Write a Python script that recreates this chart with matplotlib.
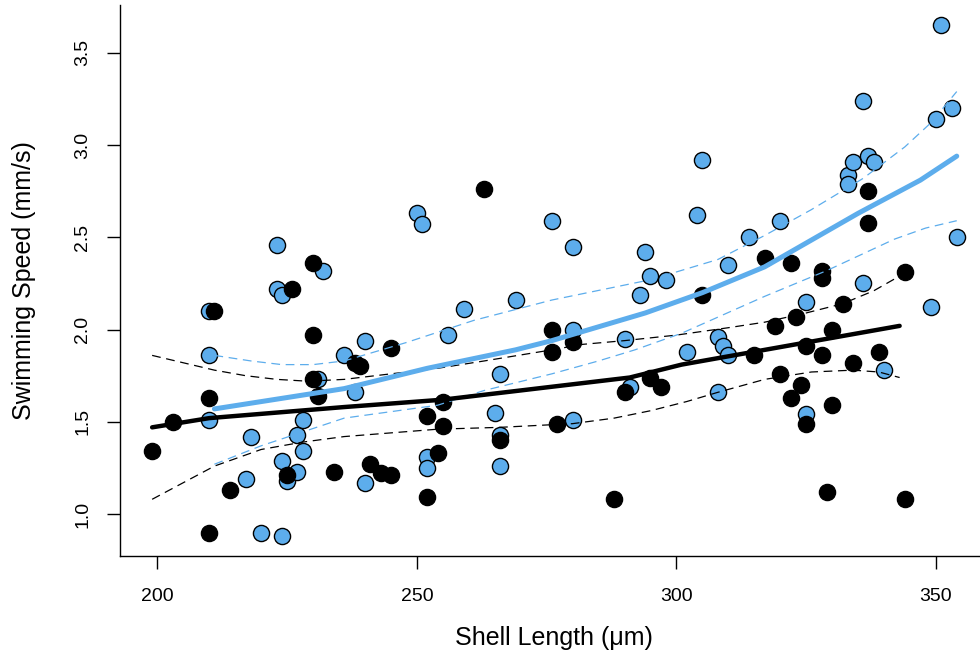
import matplotlib
matplotlib.use("Agg")
import matplotlib.pyplot as plt

# group 1 (black) observations: shell length (um), swimming speed (mm/s)
black_len = [199, 203, 211, 210, 210, 214, 226, 230, 230, 230, 231, 225, 234, 238, 239,
             245, 241, 243, 245, 252, 252, 254, 255, 255, 263, 266, 276, 276, 277, 280,
             288, 290, 295, 297, 305, 315, 317, 319, 320, 322, 322, 323, 324, 325, 325,
             328, 328, 328, 329, 330, 330, 332, 334, 337, 337, 339, 344, 344]
black_speed = [1.34, 1.50, 2.10, 1.63, 0.90, 1.13, 2.22, 2.36, 1.97, 1.73, 1.64, 1.21, 1.23, 1.82, 1.80,
               1.90, 1.27, 1.22, 1.21, 1.53, 1.09, 1.33, 1.61, 1.48, 2.76, 1.40, 2.00, 1.88, 1.49, 1.93,
               1.08, 1.66, 1.74, 1.69, 2.19, 1.86, 2.39, 2.02, 1.76, 2.36, 1.63, 2.07, 1.70, 1.91, 1.49,
               2.32, 2.28, 1.86, 1.12, 2.00, 1.59, 2.14, 1.82, 2.75, 2.58, 1.88, 2.31, 1.08]

# group 2 (blue) observations
blue_len = [210, 210, 210, 218, 217, 220, 224, 223, 223, 224, 224, 225, 227, 227, 228,
            228, 231, 232, 236, 238, 240, 240, 250, 251, 252, 252, 256, 259, 265, 266,
            266, 266, 269, 276, 280, 280, 280, 290, 291, 293, 294, 295, 298, 302, 304,
            305, 308, 309, 310, 308, 310, 314, 320, 325, 325, 333, 333, 334, 336, 336,
            337, 338, 340, 349, 350, 351, 353, 354]
blue_speed = [2.10, 1.86, 1.51, 1.42, 1.19, 0.90, 0.88, 2.46, 2.22, 2.19, 1.29, 1.18, 1.43, 1.23, 1.51,
              1.34, 1.73, 2.32, 1.86, 1.66, 1.94, 1.17, 2.63, 2.57, 1.31, 1.25, 1.97, 2.11, 1.55, 1.76,
              1.43, 1.26, 2.16, 2.59, 2.45, 2.00, 1.51, 1.95, 1.69, 2.19, 2.42, 2.29, 2.27, 1.88, 2.62,
              2.92, 1.96, 1.91, 1.86, 1.66, 2.35, 2.50, 2.59, 2.15, 1.54, 2.84, 2.79, 2.91, 3.24, 2.25,
              2.94, 2.91, 1.78, 2.12, 3.14, 3.65, 3.20, 2.50]

# fitted curves
black_fit_x = [199, 210, 236, 255, 276, 291, 301, 317, 325, 343]
black_fit_y = [1.47, 1.52, 1.58, 1.62, 1.69, 1.74, 1.81, 1.89, 1.93, 2.02]
black_hi_x = [199, 205, 211, 217, 223, 229, 236, 245, 254, 263, 276, 282, 290, 300, 310, 317, 325, 332, 338, 343]
black_hi_y = [1.86, 1.82, 1.78, 1.75, 1.73, 1.72, 1.73, 1.76, 1.79, 1.83, 1.89, 1.92, 1.94, 1.97, 2.01, 2.04, 2.09, 2.14, 2.21, 2.29]
black_lo_x = [199, 205, 211, 220, 228, 236, 254, 266, 280, 288, 295, 302, 308, 317, 326, 334, 339, 343]
black_lo_y = [1.08, 1.17, 1.26, 1.35, 1.39, 1.42, 1.46, 1.47, 1.49, 1.52, 1.56, 1.61, 1.66, 1.73, 1.77, 1.78, 1.77, 1.74]

blue_fit_x = [211, 236, 252, 269, 276, 294, 305, 317, 335, 347, 354]
blue_fit_y = [1.57, 1.68, 1.79, 1.89, 1.94, 2.09, 2.20, 2.34, 2.63, 2.81, 2.94]
blue_hi_x = [211, 218, 224, 230, 236, 248, 261, 276, 295, 308, 317, 326, 336, 344, 349, 354]
blue_hi_y = [1.86, 1.83, 1.81, 1.81, 1.83, 1.93, 2.05, 2.16, 2.27, 2.38, 2.51, 2.65, 2.82, 2.99, 3.12, 3.29]
blue_lo_x = [211, 220, 236, 254, 263, 276, 285, 292, 301, 317, 329, 342, 348, 354]
blue_lo_y = [1.27, 1.37, 1.52, 1.59, 1.67, 1.76, 1.83, 1.89, 1.98, 2.18, 2.32, 2.49, 2.55, 2.59]

xticks = [200, 250, 300, 350]
yticks = [1.0, 1.5, 2.0, 2.5, 3.0, 3.5]

blue = '#5DADEC'
dash = (0, (7, 4.5))

plt.rcParams['font.family'] = ['Liberation Sans', 'DejaVu Sans']

fig = plt.figure(figsize=(9.8, 6.61), dpi=100)
ax = fig.add_axes([0.1224, 0.1581, 0.8867, 0.8343])

# points
ax.scatter(blue_len, blue_speed, s=135, c=blue, edgecolors='black', linewidths=1.0, zorder=2)
ax.scatter(black_len, black_speed, s=135, c='black', edgecolors='black', linewidths=1.0, zorder=3)

# fits with bands
ax.plot(black_hi_x, black_hi_y, color='black', lw=0.9, ls=dash, zorder=4)
ax.plot(black_lo_x, black_lo_y, color='black', lw=0.9, ls=dash, zorder=4)
ax.plot(blue_hi_x, blue_hi_y, color=blue, lw=0.9, ls=dash, zorder=4)
ax.plot(blue_lo_x, blue_lo_y, color=blue, lw=0.9, ls=dash, zorder=4)
ax.plot(black_fit_x, black_fit_y, color='black', lw=3.2, solid_capstyle='round', zorder=5)
ax.plot(blue_fit_x, blue_fit_y, color=blue, lw=3.6, solid_capstyle='round', zorder=5)

ax.set_xlim(192.8, 360.2)
ax.set_ylim(0.77, 3.759)

ax.spines['top'].set_visible(False)
ax.spines['right'].set_visible(False)
ax.spines['left'].set_linewidth(1.0)
ax.spines['bottom'].set_linewidth(1.0)

ax.set_xticks(xticks)
ax.set_xticklabels([str(t) for t in xticks])
ax.set_yticks(yticks)
ax.set_yticklabels(['%.1f' % t for t in yticks], rotation=90, va='center')
ax.tick_params(direction='out', length=9.5, width=1.0, labelsize=14)
ax.tick_params(axis='x', pad=13)
ax.tick_params(axis='y', pad=11)

ax.set_xlabel('Shell Length (μm)', fontsize=18, labelpad=15)
ax.set_ylabel('Swimming Speed (mm/s)', fontsize=18, labelpad=28)

fig.savefig('out.png', dpi=100)
